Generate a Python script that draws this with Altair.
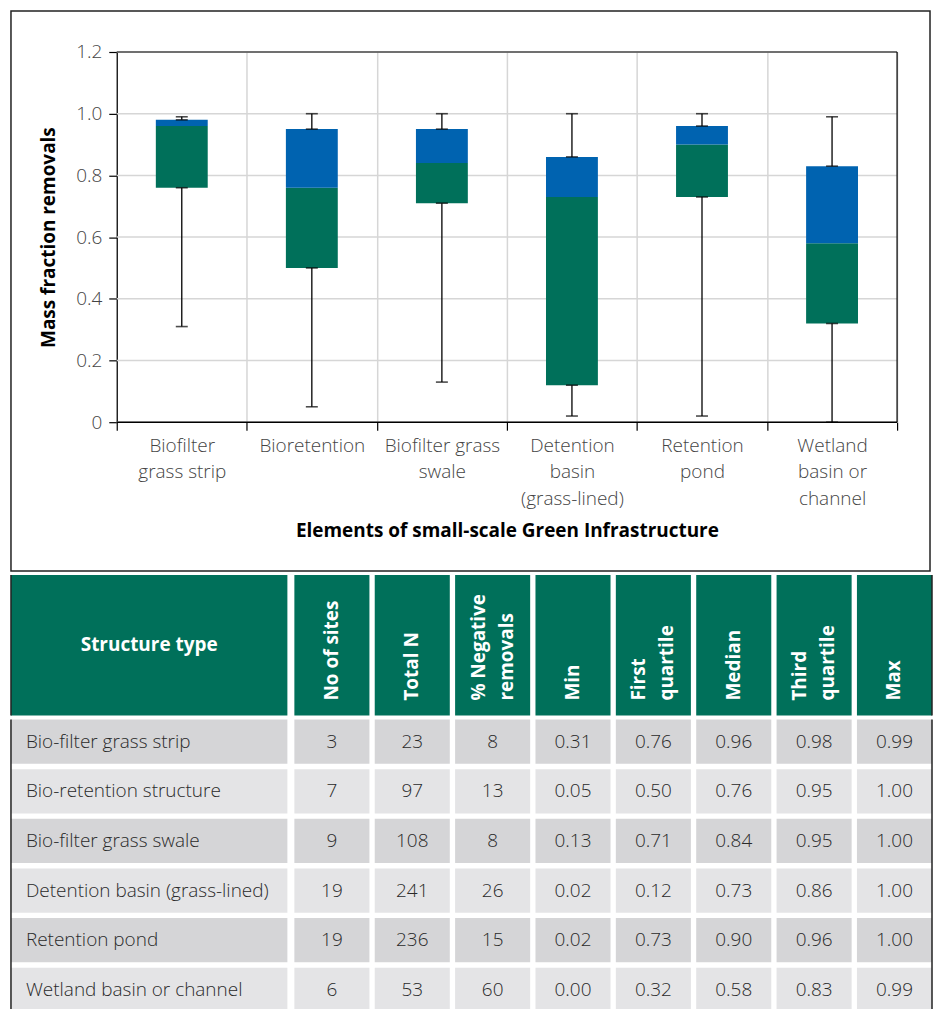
import altair as alt
import pandas as pd

# ---------------- box plot data ----------------
categories = ["Biofilter|grass strip", "Bioretention", "Biofilter grass|swale",
              "Detention|basin|(grass-lined)", "Retention|pond", "Wetland|basin or|channel"]
mins = [0.31, 0.05, 0.13, 0.02, 0.02, 0.00]
q1s = [0.76, 0.50, 0.71, 0.12, 0.73, 0.32]
medians = [0.96, 0.76, 0.84, 0.73, 0.90, 0.58]
q3s = [0.98, 0.95, 0.95, 0.86, 0.96, 0.83]
maxs = [0.99, 1.00, 1.00, 1.00, 1.00, 0.99]
y_ticks = [0, 0.2, 0.4, 0.6, 0.8, 1.0, 1.2]

# ---------------- table data ----------------
structure_types = ["Bio-filter grass strip", "Bio-retention structure", "Bio-filter grass swale",
                   "Detention basin (grass-lined)", "Retention pond", "Wetland basin or channel"]
n_sites = [3, 7, 9, 19, 19, 6]
total_n = [23, 97, 108, 241, 236, 53]
pct_negative = [8, 13, 8, 26, 15, 60]
table_columns = ["No of sites", "Total N", "% Negative|removals", "Min", "First|quartile",
                 "Median", "Third|quartile", "Max"]

GREEN = "#00705A"
BLUE = "#0063B0"
ROW_DARK = "#D5D5D7"
ROW_LIGHT = "#E4E4E6"
FRAME = "#222222"
GRID = "#d6d6d6"
FONT = "Open Sans"
FS = 19

# layout (pixels)
FULL_W = 921          # frame width
PLOT_L = 106          # plot area left inside frame
PLOT_W = 782          # plot area width
PLOT_H = 371
step = PLOT_W / len(categories)
outer_total = FULL_W - PLOT_W
pad_outer = outer_total / step / 2
band_align = PLOT_L / outer_total

# ---------------- top chart ----------------
box_df = pd.DataFrame({"cat": categories, "min": mins, "q1": q1s, "median": medians,
                       "q3": q3s, "max": maxs})

x_enc = alt.X("cat:N", sort=categories, title="Elements of small-scale Green Infrastructure",
              scale=alt.Scale(paddingInner=0, paddingOuter=pad_outer, align=band_align),
              axis=alt.Axis(labelExpr="split(datum.label, '|')", labelAngle=0, tickBand="extent",
                            grid=True, domain=False, labelLineHeight=26.5, labelPadding=6,
                            labelLimit=200, titlePadding=14, titleX=PLOT_L + PLOT_W / 2,
                            titleAnchor="start", titleAlign="center"))
y_scale = alt.Scale(domain=[0, 1.2], nice=False, zero=True)
y_axis = alt.Axis(values=y_ticks, grid=False, offset=-PLOT_L, title="Mass fraction removals",
                  labelExpr="datum.value == 0 ? '0' : format(datum.value, '.1f')",
                  labelPadding=7, titlePadding=17)

base = alt.Chart(box_df).encode(x=x_enc)
green = base.mark_bar(size=52, color=GREEN).encode(
    y=alt.Y("q1:Q", scale=y_scale, axis=y_axis), y2="median:Q")
blue = base.mark_bar(size=52, color=BLUE).encode(y=alt.Y("median:Q"), y2="q3:Q")
w_low = base.mark_rule(color="black", strokeWidth=1.3).encode(y="min:Q", y2="q1:Q")
w_high = base.mark_rule(color="black", strokeWidth=1.3).encode(y="q3:Q", y2="max:Q")
caps = base.transform_fold(["min", "q1", "q3", "max"], as_=["stat", "val"]).mark_tick(
    size=12, thickness=1.6, color="black").encode(y="val:Q")

tick_df = pd.DataFrame({"t": y_ticks})
hgrid = alt.Chart(tick_df).mark_rule(color=GRID, strokeWidth=1.5).encode(
    y=alt.Y("t:Q"), x=alt.value(PLOT_L), x2=alt.value(PLOT_L + PLOT_W))
top_line = alt.Chart(pd.DataFrame({"t": [1.2]})).mark_rule(color="black", strokeWidth=1.2).encode(
    y=alt.Y("t:Q"), x=alt.value(PLOT_L), x2=alt.value(PLOT_L + PLOT_W))
base_line = alt.Chart(pd.DataFrame({"t": [0.0]})).mark_rule(color="black", strokeWidth=1.4).encode(
    y=alt.Y("t:Q"), x=alt.value(PLOT_L), x2=alt.value(PLOT_L + PLOT_W))
right_line = alt.Chart(pd.DataFrame({"t": [0]})).mark_rule(color="black", strokeWidth=1.2).encode(
    x=alt.value(PLOT_L + PLOT_W), y=alt.value(0), y2=alt.value(PLOT_H))
frame = alt.Chart(pd.DataFrame({"f": [0]})).mark_rect(
    fill="white", fillOpacity=0, stroke=FRAME, strokeWidth=1.5).encode(
    x=alt.value(0), x2=alt.value(FULL_W), y=alt.value(-41), y2=alt.value(520))

top = alt.layer(frame, hgrid, green, blue, w_low, w_high, caps, top_line, right_line,
                base_line).properties(width=FULL_W, height=PLOT_H)

# ---------------- table ----------------
HDR_H = 141
BODY_H = 293
A_W = 277
B_W = FULL_W - A_W - 5
row_scale = alt.Scale(paddingInner=0.107, paddingOuter=0)
col_scale = alt.Scale(paddingInner=0.066, paddingOuter=0)
one_scale = alt.Scale(paddingInner=0, paddingOuter=0)
parity = [i % 2 for i in range(len(structure_types))]
row_color = alt.Color("parity:N", scale=alt.Scale(domain=[0, 1], range=[ROW_DARK, ROW_LIGHT]),
                      legend=None)

# header, first column
hA_df = pd.DataFrame({"h": ["Structure type"]})
hA_base = alt.Chart(hA_df).encode(x=alt.X("h:N", axis=None, scale=one_scale),
                                  y=alt.Y("h:N", axis=None, scale=one_scale))
hA = alt.layer(
    hA_base.mark_rect(color=GREEN),
    hA_base.mark_text(font=FONT, fontSize=FS, fontWeight="bold", color="white").encode(text="h:N"),
    alt.Chart(hA_df).mark_rule(color=FRAME, strokeWidth=1.5).encode(
        x=alt.value(0), y=alt.value(0), y2=alt.value(HDR_H)),
).properties(width=A_W, height=HDR_H)

# header, numeric columns
hB_df = pd.DataFrame({"col": table_columns, "r": ["h"] * len(table_columns)})
hB_base = alt.Chart(hB_df).encode(x=alt.X("col:N", sort=table_columns, axis=None, scale=col_scale))
hdr_text = dict(font=FONT, fontSize=FS, fontWeight="bold", color="white", angle=270,
                align="left", baseline="middle", lineHeight=28)
hB = alt.layer(
    hB_base.mark_rect(color=GREEN).encode(y=alt.Y("r:N", axis=None, scale=one_scale)),
    hB_base.transform_filter("indexof(datum.col, '|') < 0").mark_text(**hdr_text).encode(
        y=alt.value(HDR_H - 15), text="col:N"),
    hB_base.transform_filter("indexof(datum.col, '|') >= 0").transform_calculate(
        lines="split(datum.col, '|')").mark_text(dy=-14, **hdr_text).encode(
        y=alt.value(HDR_H - 15), text="lines:N"),
    alt.Chart(hA_df).mark_rule(color=FRAME, strokeWidth=1.5).encode(
        x=alt.value(B_W), y=alt.value(0), y2=alt.value(HDR_H)),
).properties(width=B_W, height=HDR_H)

# body, first column
bA_df = pd.DataFrame({"row": structure_types, "parity": parity, "c": ["s"] * len(structure_types)})
bA_base = alt.Chart(bA_df).encode(
    y=alt.Y("row:N", sort=structure_types, axis=None, scale=row_scale))
bA = alt.layer(
    bA_base.mark_rect().encode(x=alt.X("c:N", axis=None, scale=one_scale), color=row_color),
    bA_base.mark_text(font=FONT, fontSize=FS, fontWeight=300, color="#2a2a2a", align="left").encode(
        x=alt.value(15), text="row:N"),
    alt.Chart(hA_df).mark_rule(color=FRAME, strokeWidth=1.5).encode(
        x=alt.value(0), y=alt.value(0), y2=alt.value(BODY_H + 20)),
).properties(width=A_W, height=BODY_H)

# body, numeric columns
records = []
for i, st in enumerate(structure_types):
    vals = [str(n_sites[i]), str(total_n[i]), str(pct_negative[i]),
            f"{mins[i]:.2f}", f"{q1s[i]:.2f}", f"{medians[i]:.2f}", f"{q3s[i]:.2f}",
            f"{maxs[i]:.2f}"]
    for c, v in zip(table_columns, vals):
        records.append({"row": st, "col": c, "val": v, "parity": parity[i]})
bB_df = pd.DataFrame(records)
bB_base = alt.Chart(bB_df).encode(
    x=alt.X("col:N", sort=table_columns, axis=None, scale=col_scale),
    y=alt.Y("row:N", sort=structure_types, axis=None, scale=row_scale))
bB = alt.layer(
    bB_base.mark_rect().encode(color=row_color),
    bB_base.mark_text(font=FONT, fontSize=FS, fontWeight=300, color="#2a2a2a").encode(text="val:N"),
    alt.Chart(hA_df).mark_rule(color=FRAME, strokeWidth=1.5).encode(
        x=alt.value(B_W), y=alt.value(0), y2=alt.value(BODY_H + 20)),
).properties(width=B_W, height=BODY_H)

colA = alt.vconcat(hA, bA, spacing=0)
colB = alt.vconcat(hB, bB, spacing=0)
table = alt.hconcat(colA, colB, spacing=5)

chart = alt.vconcat(top, table, spacing=0).properties(
    padding={"left": 9, "top": 8, "right": 0, "bottom": 0},
    background="white",
).configure_view(stroke="transparent").configure_axis(
    labelFont=FONT, labelFontSize=FS, labelColor="#444", labelFontWeight=300,
    titleFont=FONT, titleFontSize=FS, titleFontWeight="bold", titleColor="black",
    domainColor="black", domainWidth=1.2, tickColor="black", tickSize=8, tickWidth=1.2,
    gridColor=GRID, gridWidth=1.5,
)

chart.save("out.html", embed_options={"renderer": "svg", "actions": False})
